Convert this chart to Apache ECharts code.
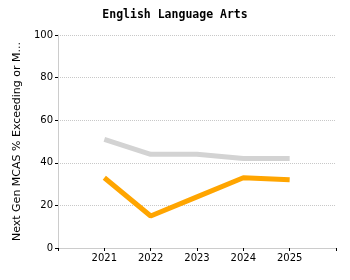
<!DOCTYPE html>
<html><head><meta charset="utf-8">
<script src="https://cdn.jsdelivr.net/npm/echarts@6/dist/echarts.min.js"></script>
<style>html,body{margin:0;padding:0;background:#fff}#c{width:350px;height:280px}</style>
</head><body><div id="c"></div>
<script>
var years = [2021, 2022, 2023, 2024, 2025];
var grayValues = [51, 44, 44, 42, 42];
var orangeValues = [33, 15, 24, 33, 32];
var yTicks = [0, 20, 40, 60, 80, 100];
var titleText = 'English Language Arts';
var yName = 'Next Gen MCAS % Exceeding or M...';

function pairs(v){ return years.map(function(y,i){ return [y, v[i]]; }); }

var chart = echarts.init(document.getElementById('c'), null, {renderer:'canvas'});
chart.setOption({
  animation:false,
  title:{text:titleText, left:'center', top:4, textStyle:{fontFamily:'DejaVu Sans Mono', fontWeight:'bold', fontSize:11.5, color:'#000'}},
  grid:{left:58, right:14, top:35, bottom:32},
  xAxis:{type:'value', min:2020, max:2026, interval:1,
    axisLine:{lineStyle:{color:'#ccc'}},
    axisTick:{show:true, length:3, lineStyle:{color:'#000'}},
    splitLine:{show:false},
    axisLabel:{fontFamily:'DejaVu Sans', fontSize:10, color:'#000', margin:5,
      formatter:function(v){ return years.indexOf(v) >= 0 ? String(v) : ''; }}
  },
  yAxis:{type:'value', min:yTicks[0], max:yTicks[yTicks.length-1], interval:20,
    name:yName, nameLocation:'middle', nameGap:34, nameRotate:90,
    nameTextStyle:{fontFamily:'DejaVu Sans', fontSize:11, color:'#000'},
    axisLine:{show:true, lineStyle:{color:'#ccc'}},
    axisTick:{show:true, length:3, lineStyle:{color:'#000'}},
    splitLine:{show:true, lineStyle:{color:'#c8c8c8', type:'dotted'}},
    axisLabel:{fontFamily:'DejaVu Sans', fontSize:10, color:'#000', margin:5}
  },
  series:[
    {type:'line', data:pairs(grayValues), showSymbol:false, lineStyle:{color:'#d3d3d3', width:5}, itemStyle:{color:'#d3d3d3'}},
    {type:'line', data:pairs(orangeValues), showSymbol:false, lineStyle:{color:'#ffa500', width:5}, itemStyle:{color:'#ffa500'}}
  ]
});
</script></body></html>
